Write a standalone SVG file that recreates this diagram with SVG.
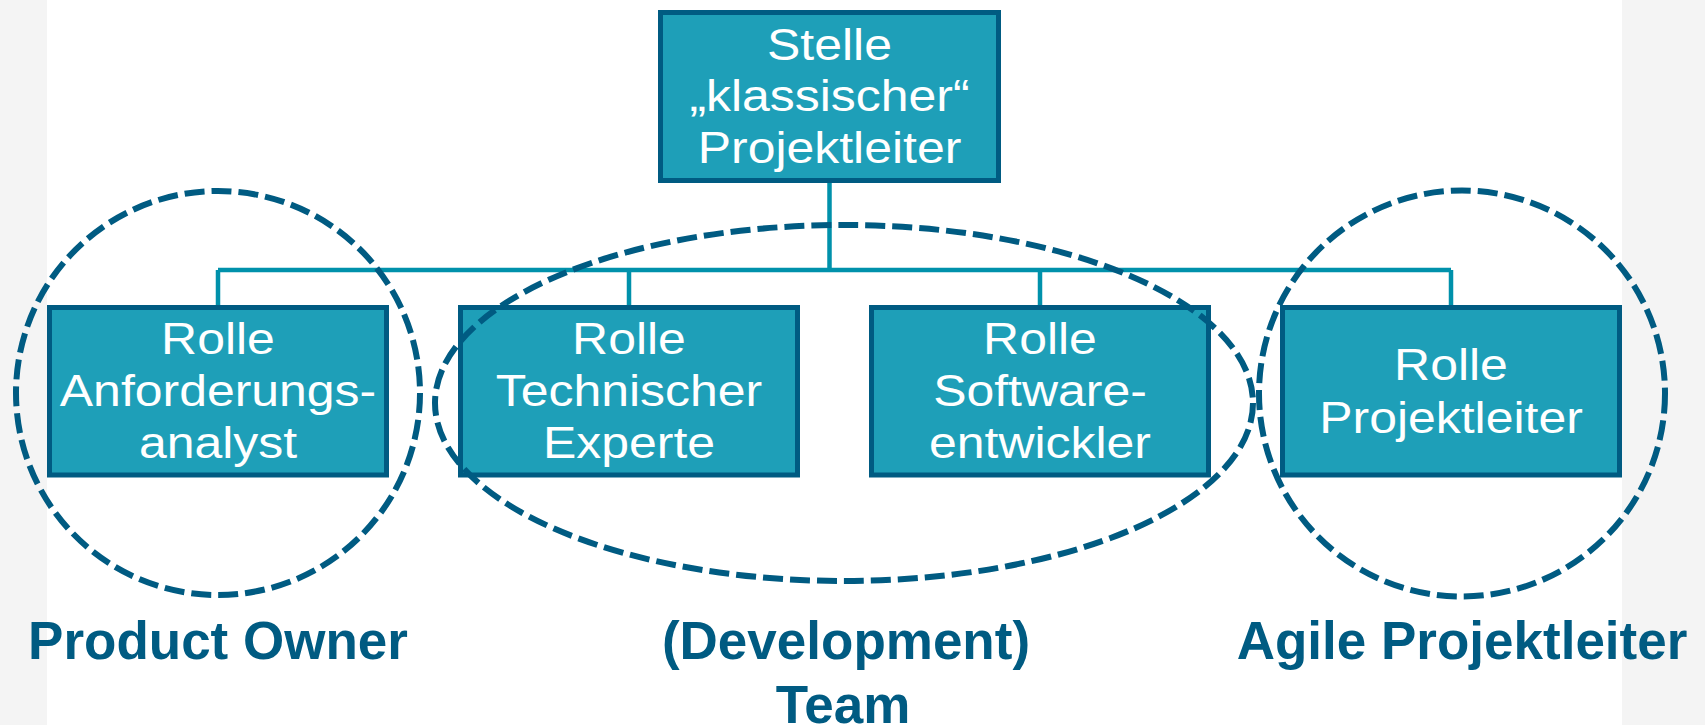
<svg xmlns="http://www.w3.org/2000/svg" width="1705" height="725" viewBox="0 0 1705 725">
<style>
.bg{fill:#f4f4f4}
.box{fill:#1e9fb8;stroke:#005b82;stroke-width:5}
.con{fill:none;stroke:#0091ab;stroke-width:4.5}
.grp{fill:none;stroke:#005b82;stroke-width:6;stroke-dasharray:20 7}
.t{font-family:"Liberation Sans",Arial,sans-serif;font-size:45px;fill:#ffffff;text-anchor:middle}
.lbl{font-family:"Liberation Sans",Arial,sans-serif;font-size:53px;font-weight:bold;fill:#005b82;text-anchor:middle}
</style>
<rect x="0" y="0" width="1705" height="725" fill="#ffffff"/>
<rect class="bg" x="0" y="0" width="47" height="725"/>
<rect class="bg" x="1622" y="0" width="83" height="725"/>
<g id="connectors">
<path class="con" d="M829.5 183 V270 M218 270 H1451 M218 270 V305 M629 270 V305 M1040 270 V305 M1451 270 V305"/>
</g>
<g id="node-stelle">
<rect class="box" x="660.5" y="12.5" width="338" height="168"/>
<g class="t" transform="translate(829.5 0) scale(1.11 1)">
<text x="0" y="60">Stelle</text>
<text x="0" y="111">„klassischer“</text>
<text x="0" y="163">Projektleiter</text>
</g>
</g>
<g id="node-anforderungsanalyst">
<rect class="box" x="49.5" y="307.5" width="337" height="167.5"/>
<g class="t" transform="translate(218 0) scale(1.11 1)">
<text x="0" y="354">Rolle</text>
<text x="0" y="406">Anforderungs-</text>
<text x="0" y="458">analyst</text>
</g>
</g>
<g id="node-technischer-experte">
<rect class="box" x="460.5" y="307.5" width="337" height="167.5"/>
<g class="t" transform="translate(629 0) scale(1.11 1)">
<text x="0" y="354">Rolle</text>
<text x="0" y="406">Technischer</text>
<text x="0" y="458">Experte</text>
</g>
</g>
<g id="node-softwareentwickler">
<rect class="box" x="871.5" y="307.5" width="337" height="167.5"/>
<g class="t" transform="translate(1040 0) scale(1.11 1)">
<text x="0" y="354">Rolle</text>
<text x="0" y="406">Software-</text>
<text x="0" y="458">entwickler</text>
</g>
</g>
<g id="node-projektleiter">
<rect class="box" x="1282.5" y="307.5" width="337" height="167.5"/>
<g class="t" transform="translate(1451 0) scale(1.11 1)">
<text x="0" y="380">Rolle</text>
<text x="0" y="433">Projektleiter</text>
</g>
</g>
<g id="group-product-owner">
<circle class="grp" cx="218" cy="393" r="202"/>
<text class="lbl" x="218" y="659">Product Owner</text>
</g>
<g id="group-development-team">
<ellipse class="grp" cx="844" cy="403" rx="409" ry="178"/>
<text class="lbl" x="846" y="659">(Development)</text>
<text class="lbl" x="843" y="723">Team</text>
</g>
<g id="group-agile-projektleiter">
<circle class="grp" cx="1462" cy="393.5" r="203"/>
<text class="lbl" x="1462" y="659">Agile Projektleiter</text>
</g>
</svg>
